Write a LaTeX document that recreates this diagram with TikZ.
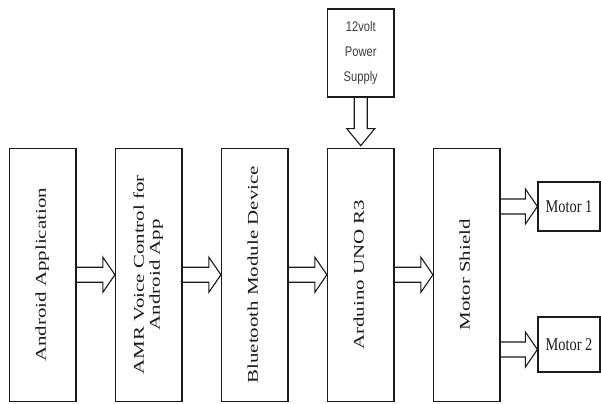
\documentclass[tikz,border=0pt]{standalone}
\usepackage{fontspec}
\setmainfont{Liberation Serif}
\newfontfamily\sidefont[FakeStretch=1.4]{Liberation Serif}
\newfontfamily\flatfont[FakeStretch=0.8]{Liberation Serif}
\newfontfamily\psufont[FakeStretch=0.8]{Liberation Sans}
\usepackage{tikz}
\usetikzlibrary{positioning,calc}
\definecolor{ink}{HTML}{1A1A1A}
\tikzset{
  >=stealth,
  % --- nodes
  blk/.style   = {draw=ink, line width=1.2bp, minimum width=66.5bp, minimum height=253bp,
                  inner sep=0pt, text=ink, font=\sidefont\fontsize{15}{16}\selectfont},
  motor/.style = {draw=ink, line width=1.2bp, minimum width=62bp, inner sep=0pt,
                  text=ink, font=\flatfont\fontsize{18}{20}\selectfont},
  psu/.style   = {draw=ink, line width=1.2bp, minimum width=66.5bp, minimum height=88bp,
                  inner sep=0pt, align=center, text=ink!85,
                  font=\psufont\fontsize{14}{25}\selectfont},
  % --- edges
  fat/.style   = {draw=ink, line width=1.1bp, line join=miter},
}
\newcommand{\sidetext}[1]{\rotatebox{90}{\begin{tabular}{@{}c@{}}#1\end{tabular}}}
% hollow block arrow, left to right
\newcommand{\fatarrow}[2]{%
  \draw[fat] let \p1=(#1), \p2=(#2) in
    (\x1,{\y1+7.5bp}) -- ({\x2-12bp},{\y1+7.5bp}) -- ({\x2-12bp},{\y1+17.5bp})
    -- (\x2,\y1) -- ({\x2-12bp},{\y1-17.5bp}) -- ({\x2-12bp},{\y1-7.5bp})
    -- (\x1,{\y1-7.5bp});}

\begin{document}
\begin{tikzpicture}[x=1bp, y=-1bp]
  \useasboundingbox (0,0) rectangle (601,403);
  % main chain
  \node[blk] (app) at (42.75,274.75) {\sidetext{Android Application}};
  \node[blk, right=38.3bp of app] (amr) {\sidetext{AMR Voice Control for\\Android App}};
  \node[blk, right=38.3bp of amr] (bt) {\sidetext{Bluetooth Module Device}};
  \node[blk, right=38.3bp of bt] (uno) {\sidetext{Arduino UNO R3}};
  \node[blk, right=38.3bp of uno] (shield) {\sidetext{Motor Shield}};
  \node[psu, above=50bp of uno] (psu) {12volt\\Power\\Supply};
  \node[motor, minimum height=49bp] (m1) at (569,206.5) {Motor 1};
  \node[motor, minimum height=55bp] (m2) at (569,344.5) {Motor 2};
  \coordinate (m2in) at ([yshift=-5bp]m2.west);

  \fatarrow{app.east}{amr.west}
  \fatarrow{amr.east}{bt.west}
  \fatarrow{bt.east}{uno.west}
  \fatarrow{uno.east}{shield.west}
  \fatarrow{shield.east |- m1.west}{m1.west}
  \fatarrow{shield.east |- m2in}{m2in}
  % supply feeds the board from above
  \draw[fat] let \p1=(psu.south), \p2=(uno.north) in
    ({\x1-6.5bp},\y1) -- ({\x1-6.5bp},{\y2+19bp}) -- ({\x1-14bp},{\y2+19bp})
    -- (\x1,{\y2+2bp}) -- ({\x1+14bp},{\y2+19bp}) -- ({\x1+6.5bp},{\y2+19bp})
    -- ({\x1+6.5bp},\y1);
\end{tikzpicture}
\end{document}
